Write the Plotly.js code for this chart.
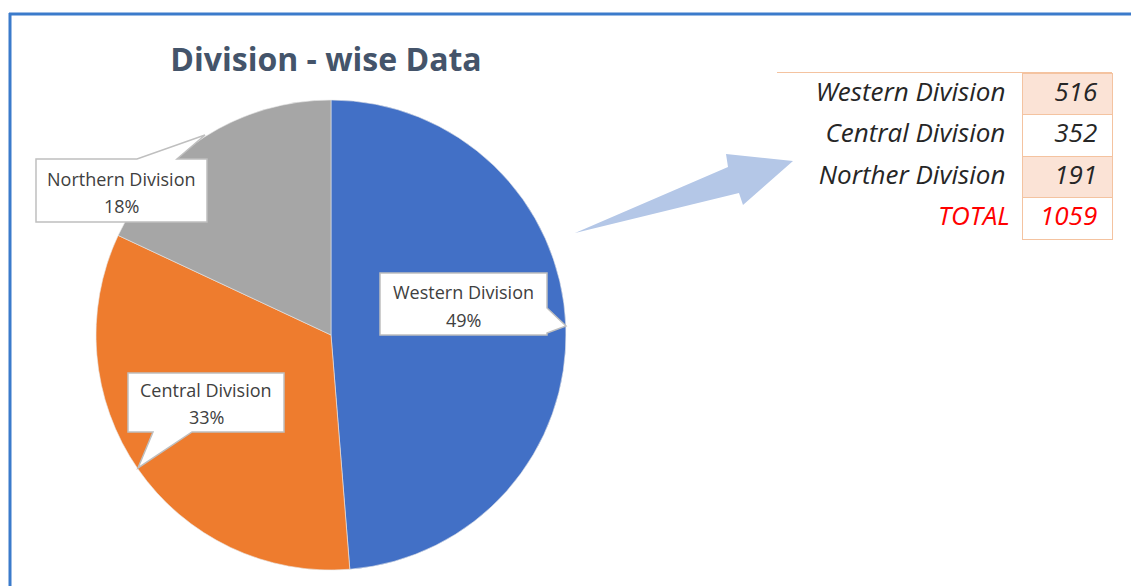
<!DOCTYPE html>
<html>
<head>
<meta charset="utf-8">
<script src="https://cdn.plot.ly/plotly-3.0.1.min.js"></script>
<style>
html,body{margin:0;padding:0;background:#fff;}
#chart{width:1131px;height:586px;}
</style>
</head>
<body>
<div id="chart"></div>
<script>
// ---- data ----
var pieLabels = ['Western Division', 'Central Division', 'Northern Division'];
var tableLabels = ['Western Division', 'Central Division', 'Norther Division'];
var values = [516, 352, 191];
var totalLabel = 'TOTAL';
var chartTitle = 'Division - wise Data';

// ---- helpers ----
var W = 1131, H = 586;
function px(x){ return x / W; }
function py(y){ return 1 - y / H; }
function path(pts){
  return 'M' + pts.map(function(p){ return px(p[0]).toFixed(5) + ',' + py(p[1]).toFixed(5); }).join(' L') + ' Z';
}

var total = values.reduce(function(a,b){return a+b;}, 0);
var pct = values.map(function(v){ return Math.round(v / total * 100) + '%'; });

var pie = {
  type: 'pie',
  labels: pieLabels,
  values: values,
  sort: false,
  direction: 'clockwise',
  rotation: 0,
  textinfo: 'none',
  hoverinfo: 'label+percent',
  marker: { colors: ['#4270C6', '#EE7C2E', '#A6A6A6'], line: { color: '#E8E8E8', width: 0.6 } },
  domain: { x: [px(96), px(566)], y: [py(570), py(100)] },
  showlegend: false
};

var tblCol1 = tableLabels.concat([totalLabel]);
var tblCol2 = values.map(String).concat([String(total)]);
var peach = '#FBE3D6';
var border = '#F4C3A0';

var table = {
  type: 'table',
  domain: { x: [px(777), px(1112)], y: [py(245), py(72)] },
  columnwidth: [245, 90],
  header: {
    values: ['', ''],
    height: 1,
    fill: { color: border },
    line: { width: 0, color: border }
  },
  cells: {
    values: [tblCol1, tblCol2],
    height: 41.6,
    align: ['right', 'right'],
    suffix: ['\u2009', '\u00A0'],
    fill: { color: [['#ffffff','#ffffff','#ffffff','#ffffff'], [peach, '#ffffff', peach, '#ffffff']] },
    line: { color: ['rgba(255,255,255,0)', border], width: 1 },
    font: {
      family: 'Open Sans',
      size: 26,
      style: 'italic',
      color: [['#262626','#262626','#262626','#FF0000'], ['#262626','#262626','#262626','#FF0000']]
    }
  }
};

// callouts (box + tail), text centers
var callouts = [
  { box: [380, 273, 547, 335], tail: [[547,308],[566,326],[547,333]], side: 'right', t1: 292, t2: 320 },
  { box: [128, 373, 284, 432], tail: [[192,432],[138,468],[153,432]], side: 'bottom', t1: 390, t2: 417 },
  { box: [36, 159, 207, 222], tail: [[137,159],[205,135],[177,159]], side: 'top', t1: 179, t2: 206 }
];

function calloutPath(c){
  var x0=c.box[0], y0=c.box[1], x1=c.box[2], y1=c.box[3], t=c.tail, pts;
  if (c.side === 'right') {
    pts = [[x0,y0],[x1,y0],t[0],t[1],t[2],[x1,y1],[x0,y1]];
  } else if (c.side === 'bottom') {
    pts = [[x0,y0],[x1,y0],[x1,y1],t[0],t[1],t[2],[x0,y1]];
  } else {
    pts = [[x0,y0],t[0],t[1],t[2],[x1,y0],[x1,y1],[x0,y1]];
  }
  return path(pts);
}

var shapes = [
  // frame
  { type: 'line', xref: 'paper', yref: 'paper', x0: px(9), x1: px(1131), y0: py(14), y1: py(14), line: { color: '#3B7BCB', width: 3 } },
  { type: 'line', xref: 'paper', yref: 'paper', x0: px(10), x1: px(10), y0: py(13), y1: py(586), line: { color: '#3B7BCB', width: 3 } },
  // arrow
  { type: 'path', xref: 'paper', yref: 'paper',
    path: path([[575,233],[728,167],[726,154],[793,161],[743,205],[739,193]]),
    fillcolor: '#B4C7E7', line: { width: 0 } }
];
var annotations = [];
callouts.forEach(function(c, i){
  shapes.push({ type: 'path', xref: 'paper', yref: 'paper', path: calloutPath(c),
    fillcolor: '#FFFFFF', line: { color: '#BFBFBF', width: 1.5 } });
  var cx = (c.box[0] + c.box[2]) / 2;
  annotations.push({ xref: 'paper', yref: 'paper', x: px(cx), y: py(c.t1), text: pieLabels[i],
    showarrow: false, xanchor: 'center', yanchor: 'middle', font: { family: 'Open Sans', size: 18, color: '#404040' } });
  annotations.push({ xref: 'paper', yref: 'paper', x: px(cx), y: py(c.t2), text: pct[i],
    showarrow: false, xanchor: 'center', yanchor: 'middle', font: { family: 'Open Sans', size: 18, color: '#404040' } });
});

var layout = {
  width: W, height: H,
  margin: { l: 0, r: 0, t: 0, b: 0 },
  paper_bgcolor: '#ffffff',
  title: {
    text: '<b>' + chartTitle + '</b>',
    x: px(326), xanchor: 'center', xref: 'paper',
    y: py(60), yanchor: 'middle', yref: 'paper',
    font: { family: 'Open Sans', size: 32, color: '#44546A' }
  },
  shapes: shapes,
  annotations: annotations,
  showlegend: false
};

Plotly.newPlot('chart', [pie, table], layout, { displayModeBar: false, staticPlot: true });
</script>
</body>
</html>
